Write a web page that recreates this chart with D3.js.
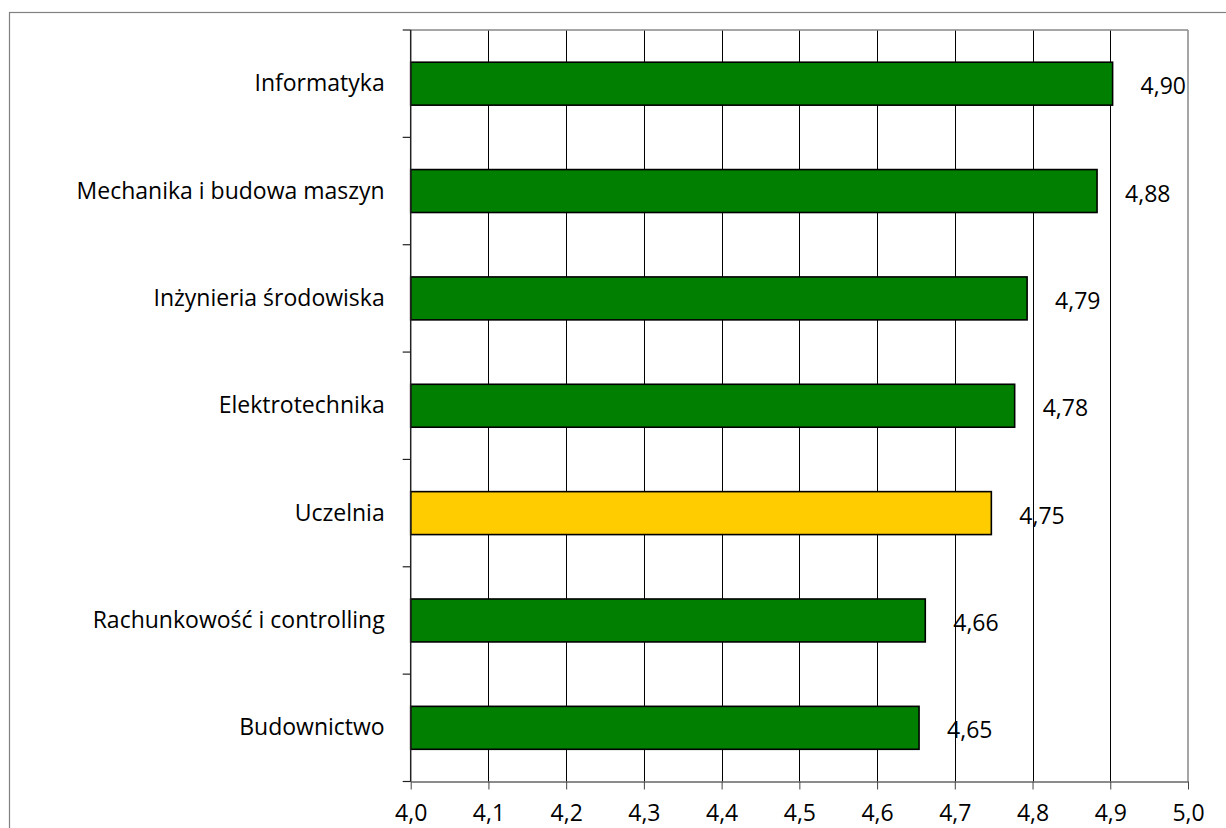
<!DOCTYPE html>
<html><head><meta charset="utf-8">
<script src="https://cdn.jsdelivr.net/npm/d3@7"></script>
<style>
html,body{margin:0;padding:0;background:#fff;}
svg{display:block;font-family:"Open Sans",sans-serif;}
</style></head>
<body><svg id="c" width="1226" height="828"></svg>
<script>
const categories = ["Informatyka","Mechanika i budowa maszyn","Inżynieria środowiska","Elektrotechnika","Uczelnia","Rachunkowość i controlling","Budownictwo"];
const values = [4.903,4.883,4.793,4.777,4.747,4.662,4.654];
const highlight = ["Uczelnia"];
const xTicks = [4.0,4.1,4.2,4.3,4.4,4.5,4.6,4.7,4.8,4.9,5.0];

const svg = d3.select("#c");
const L=410.7, R=1188, T=30, B=781.5;
const x = d3.scaleLinear().domain([4,5]).range([L,R]);
const y = d3.scaleBand().domain(categories).range([T,B]).paddingInner(0.6).paddingOuter(0.3);
const fmt = v => v.toFixed(2).replace(".",",");

// outer border
svg.append("rect").attr("x",9.5).attr("y",12.5).attr("width",1400).attr("height",1000)
  .attr("fill","none").attr("stroke","#808080").attr("stroke-width",1.2);

// gridlines
svg.append("g").selectAll("line").data(xTicks.slice(1,-1)).join("line")
  .attr("x1",d=>Math.round(x(d))+0.5).attr("x2",d=>Math.round(x(d))+0.5)
  .attr("y1",T).attr("y2",B).attr("stroke","#000").attr("stroke-width",1);

// plot area top & right border
svg.append("line").attr("x1",L).attr("x2",R).attr("y1",T).attr("y2",T).attr("stroke","#888").attr("stroke-width",1.5);
svg.append("line").attr("x1",R).attr("x2",R).attr("y1",T).attr("y2",B).attr("stroke","#888").attr("stroke-width",1.5);

// bars
const data = categories.map((c,i)=>({c,v:values[i]}));
svg.append("g").selectAll("rect").data(data).join("rect")
  .attr("x",x(4)).attr("y",d=>y(d.c)).attr("width",d=>x(d.v)-x(4)).attr("height",y.bandwidth())
  .attr("fill",d=>highlight.includes(d.c)?"#FFCC00":"#007F00")
  .attr("stroke","#000").attr("stroke-width",1.6);

// value labels
svg.append("g").selectAll("text").data(data).join("text")
  .attr("x",d=>x(d.v)+28).attr("y",d=>y(d.c)+y.bandwidth()/2+10.5)
  .attr("font-size",23).attr("fill","#000").text(d=>fmt(d.v));

// bottom axis
const xa = svg.append("g").attr("transform",`translate(0,${B})`)
  .call(d3.axisBottom(x).tickValues(xTicks).tickSize(8).tickSizeOuter(0).tickFormat(d=>d.toFixed(1).replace(".",",")));
xa.select(".domain").attr("stroke","#666").attr("stroke-width",1.5);
xa.selectAll(".tick line").attr("stroke","#444");
xa.selectAll(".tick text").attr("font-size",23).attr("fill","#000").attr("y",39).attr("dy",0).attr("dominant-baseline","auto")
  .attr("font-family","Open Sans");

// left axis line
svg.append("line").attr("x1",L).attr("x2",L).attr("y1",T).attr("y2",B).attr("stroke","#222").attr("stroke-width",1.5);
// left ticks at band boundaries
const bounds = categories.map(c=>y(c)-y.step()*y.paddingInner()/2).concat([B]);
bounds[0]=T;
svg.append("g").selectAll("line").data(bounds).join("line")
  .attr("x1",L-8).attr("x2",L).attr("y1",d=>d).attr("y2",d=>d).attr("stroke","#222").attr("stroke-width",1.2);

// category labels
svg.append("g").selectAll("text").data(categories).join("text")
  .attr("x",L-26).attr("y",c=>y(c)+y.bandwidth()/2+7.5).attr("text-anchor","end")
  .attr("font-size",23).attr("fill","#000").text(c=>c);
</script>
</body></html>
